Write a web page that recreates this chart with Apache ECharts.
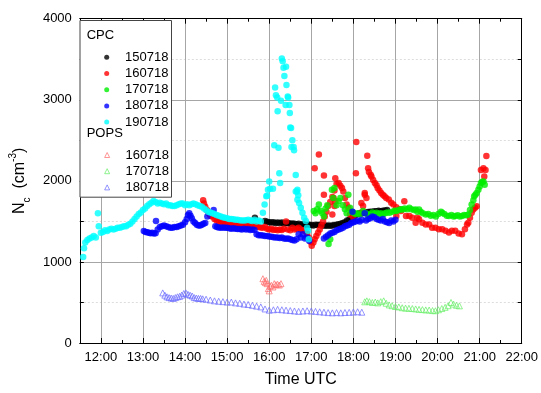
<!DOCTYPE html>
<html>
<head>
<meta charset="utf-8">
<script src="https://cdn.jsdelivr.net/npm/echarts@6/dist/echarts.min.js"></script>
<style>
html,body{margin:0;padding:0;background:#fff;}
#chart{width:541px;height:393px;}
</style>
</head>
<body>
<div id="chart"></div>
<script>
// ---- data: [time in decimal hours UTC, Nc (cm^-3)] ----
const cpc150718 = [
[15.66,1545],[15.90,1505],[15.95,1495],[16.00,1490],[16.05,1485],[16.10,1490],[16.15,1480],[16.20,1485],[16.25,1480],[16.30,1485],
[16.35,1475],[16.40,1480],[16.45,1480],[16.50,1470],[16.55,1475],[16.60,1470],[16.65,1465],[16.70,1470],[16.75,1460],[16.80,1465],
[16.85,1460],[16.90,1455],[16.95,1460],[17.00,1455],[17.05,1450],[17.10,1460],[17.15,1455],[17.20,1460],[17.25,1450],[17.30,1450],
[17.35,1445],[17.40,1450],[17.45,1445],[17.50,1450],[17.55,1455],[17.60,1460],[17.65,1465],[17.70,1470],[17.75,1480],[17.80,1490],
[17.85,1510],[17.90,1520],[17.95,1540],[18.00,1560],[18.05,1580],[18.10,1590],[18.15,1600],[18.20,1600],[18.25,1605],[18.30,1610],
[18.35,1615],[18.40,1620],[18.45,1620],[18.50,1625],[18.55,1625],[18.60,1630],[18.65,1625],[18.70,1630],[18.75,1635],[18.80,1640]
];
const cpc160718 = [
[14.43,1760],[14.45,1720],[14.48,1680],[14.52,1640],[14.56,1600],[14.60,1570],[14.64,1560],[14.70,1530],[14.75,1510],[14.80,1500],
[14.85,1490],[14.90,1490],[14.95,1480],[15.00,1485],[15.05,1470],[15.10,1475],[15.15,1465],[15.20,1460],[15.25,1470],[15.30,1460],
[15.35,1465],[15.40,1455],[15.45,1460],[15.50,1450],[15.55,1455],[15.60,1445],[15.65,1450],[15.70,1440],[15.75,1430],[15.80,1425],
[15.85,1420],[15.90,1430],[15.95,1410],[16.00,1400],[16.05,1410],[16.10,1395],[16.15,1400],[16.20,1390],[16.25,1400],[16.30,1395],
[16.35,1410],[16.40,1500],[16.44,1400],[16.50,1390],[16.55,1420],[16.60,1400],[16.65,1410],[16.70,1420],[16.75,1400],[16.80,1390],
[16.85,1380],[16.90,1350],[16.94,1300],[16.98,1250],[17.01,1200],[17.05,1240],[17.08,1280],[17.12,1320],[17.16,1360],[17.20,1400],
[17.24,1450],[17.28,1500],[17.32,1560],[17.36,1620],[17.40,1690],[17.45,1740],[17.50,1800],[17.55,1880],[17.60,1960],[17.65,1972],
[17.08,2155],[17.18,2326],[17.30,2066],[17.30,1829],[17.57,2033],[17.69,1940],[17.73,1911],[17.76,1870],[17.53,1789],[17.57,1748],
[17.55,1690],[17.50,1585],[17.80,1789],[17.84,1707],[17.88,1667],[17.92,1585],[18.00,1545],[18.19,1728],[18.23,1690],[18.19,1610],
[18.27,1850],[18.27,1829],[18.31,1789],[18.07,2480],[18.06,2094],[18.33,2310],[18.35,2155],[18.37,2110],[18.41,2075],[18.43,2053],
[18.47,2010],[18.51,1972],[18.55,1945],[18.58,1910],[18.62,1880],[18.66,1850],[18.70,1829],[18.74,1810],[18.78,1789],[18.84,1770],
[18.90,1730],[18.95,1707],[19.02,1675],[19.10,1650],[19.02,1566],[19.13,1627],[19.21,1748],[19.25,1566],[19.33,1566],[19.40,1545],
[19.48,1484],[19.52,1545],[19.56,1525],[19.64,1484],[19.72,1463],[19.80,1463],[19.87,1423],[19.95,1423],[20.03,1403],[20.11,1403],
[20.19,1383],[20.27,1362],[20.34,1383],[20.42,1383],[20.50,1350],[20.58,1342],[20.65,1403],[20.70,1463],[20.73,1484],[20.77,1545],
[20.81,1606],[20.85,1646],[20.89,1667],[20.93,1687],[21.03,2134],[21.09,2155],[21.14,2134],[21.11,2053],[21.16,2305]
];
const cpc170718 = [
[17.06,1627],[17.10,1600],[17.14,1650],[17.18,1707],[17.22,1630],[17.26,1600],[17.30,1560],[17.34,1660],[17.38,1700],[17.41,1220],
[17.45,1280],[17.49,1890],[17.52,1790],[17.55,1911],[17.60,1700],[17.65,1750],[17.69,1789],[17.75,1700],[17.80,1650],[17.84,1600],
[17.88,1829],[17.92,1667],[17.96,1620],[18.00,1606],[18.05,1590],[18.10,1600],[18.16,1585],[18.23,1627],[18.30,1600],[18.35,1580],
[18.39,1585],[18.45,1610],[18.50,1590],[18.55,1606],[18.60,1590],[18.65,1600],[18.70,1585],[18.75,1600],[18.80,1610],[18.86,1606],
[18.92,1620],[18.98,1630],[19.02,1627],[19.08,1640],[19.13,1650],[19.17,1646],[19.22,1660],[19.28,1650],[19.33,1667],[19.38,1650],
[19.44,1640],[19.48,1646],[19.52,1620],[19.56,1646],[19.60,1620],[19.65,1600],[19.72,1585],[19.78,1590],[19.84,1570],[19.90,1580],
[19.96,1560],[20.02,1590],[20.08,1620],[20.11,1606],[20.16,1590],[20.22,1570],[20.27,1566],[20.33,1580],[20.38,1560],[20.42,1566],
[20.48,1575],[20.53,1560],[20.58,1566],[20.63,1580],[20.68,1575],[20.73,1585],[20.77,1640],[20.81,1707],[20.85,1760],[20.87,1809],
[20.90,1830],[20.93,1850],[20.97,1890],[21.00,1930],[21.03,1972],[21.06,1990],[21.09,1993],[21.12,1951]
];
const cpc180718 = [
[13.02,1380],[13.06,1370],[13.10,1365],[13.14,1360],[13.18,1355],[13.22,1360],[13.26,1350],[13.30,1355],[13.31,1505],[13.35,1400],
[13.40,1430],[13.45,1440],[13.50,1450],[13.55,1440],[13.60,1430],[13.65,1420],[13.70,1420],[13.75,1430],[13.80,1430],[13.85,1440],
[13.90,1450],[13.95,1460],[14.00,1490],[14.04,1530],[14.07,1580],[14.10,1600],[14.13,1570],[14.16,1540],[14.20,1500],[14.24,1480],
[14.28,1460],[14.32,1450],[14.36,1450],[14.40,1460],[14.44,1470],[14.48,1480],[14.53,1560],[14.68,1640],[14.72,1440],[14.76,1430],
[14.80,1425],[14.85,1420],[14.90,1425],[14.95,1420],[15.00,1420],[15.05,1415],[15.10,1410],[15.15,1415],[15.20,1410],[15.25,1405],
[15.30,1405],[15.35,1400],[15.40,1410],[15.45,1400],[15.50,1405],[15.55,1395],[15.60,1400],[15.65,1395],[15.70,1340],[15.75,1330],
[15.80,1330],[15.85,1325],[15.90,1320],[15.95,1320],[16.00,1315],[16.05,1310],[16.10,1305],[16.15,1300],[16.20,1300],[16.25,1295],
[16.30,1300],[16.35,1290],[16.40,1285],[16.45,1290],[16.50,1280],[16.55,1270],[16.60,1265],[16.65,1280],[16.70,1340],[16.75,1300],
[16.80,1340],[16.85,1290],[16.90,1300],[16.95,1260],[17.30,1290],[17.35,1310],[17.40,1330],[17.45,1350],[17.50,1360],[17.55,1370],
[17.60,1390],[17.65,1400],[17.70,1410],[17.75,1420],[17.80,1440],[17.85,1450],[17.90,1460],[17.95,1480],[17.98,1620],[18.00,1490],
[18.05,1500],[18.10,1510],[18.15,1500],[18.20,1520],[18.27,1600],[18.30,1510],[18.35,1530],[18.40,1540],[18.45,1560],[18.50,1550],
[18.55,1530],[18.60,1520],[18.65,1510],[18.70,1530],[18.75,1500],[18.80,1490],[18.85,1480],[18.90,1510],[18.95,1500],[19.00,1520]
];
const cpc190718 = [
[11.58,1060],[11.60,1170],[11.63,1240],[11.68,1270],[11.73,1290],[11.78,1300],[11.83,1320],[11.88,1300],[11.93,1600],[11.95,1440],
[12.00,1360],[12.05,1370],[12.10,1390],[12.15,1380],[12.20,1400],[12.25,1410],[12.30,1400],[12.35,1410],[12.40,1420],[12.45,1420],
[12.50,1430],[12.55,1440],[12.60,1440],[12.65,1460],[12.70,1470],[12.75,1500],[12.80,1530],[12.85,1560],[12.90,1590],[12.95,1610],
[13.00,1640],[13.05,1660],[13.10,1690],[13.15,1710],[13.20,1730],[13.25,1750],[13.30,1740],[13.35,1720],[13.40,1730],[13.45,1720],
[13.50,1710],[13.55,1720],[13.60,1700],[13.65,1700],[13.70,1690],[13.75,1690],[13.80,1700],[13.85,1710],[13.90,1720],[13.95,1720],
[14.00,1700],[14.05,1710],[14.10,1700],[14.15,1710],[14.20,1720],[14.25,1710],[14.30,1700],[14.35,1690],[14.40,1680],[14.45,1660],
[14.50,1640],[14.55,1620],[14.60,1610],[14.65,1600],[14.70,1590],[14.75,1580],[14.80,1570],[14.85,1560],[14.90,1550],[14.95,1545],
[15.00,1540],[15.05,1530],[15.10,1530],[15.15,1525],[15.20,1520],[15.25,1520],[15.30,1515],[15.35,1510],[15.40,1510],[15.45,1515],
[15.50,1520],[15.55,1510],[15.60,1505],[15.65,1520],[15.70,1500],[15.75,1510],[15.80,1500],[15.85,1606],[15.89,1707],[15.93,1810],
[15.95,1817],[15.97,1890],[16.00,1993],[16.02,1902],[16.09,1902],[16.12,2439],[16.14,3151],[16.16,3057],[16.19,3029],[16.20,2858],
[16.22,2407],[16.24,2094],[16.26,1972],[16.28,2988],[16.30,3509],[16.32,3476],[16.34,3395],[16.36,3293],[16.39,2935],[16.40,3407],
[16.41,3183],[16.44,3041],[16.45,3029],[16.48,2935],[16.49,2838],[16.50,2659],[16.52,2651],[16.53,2419],[16.55,2500],[16.58,2419],
[16.59,2378],[16.63,2073],[16.66,1870],[16.67,1890],[16.69,1822],[16.63,1870],[16.67,1768],[16.71,1728],[16.75,1667],[16.79,1606],
[16.83,1545],[16.87,1505],[16.90,1423],[16.92,1383],[16.94,1281]
];
const pops160718 = [
[15.85,793],[15.88,760],[15.91,745],[15.93,773],[15.95,732],[15.98,671],[16.00,643],[16.02,700],[16.05,712],[16.09,691],
[16.12,732],[16.16,720],[16.20,724],[16.24,715],[16.28,732]
];
const pops170718 = [
[18.27,508],[18.32,520],[18.38,510],[18.45,500],[18.52,505],[18.58,495],[18.65,510],[18.72,520],[18.78,490],[18.85,470],
[18.92,460],[19.00,450],[19.08,445],[19.16,435],[19.24,430],[19.32,428],[19.40,425],[19.48,420],[19.56,415],[19.64,412],
[19.72,408],[19.80,407],[19.88,400],[19.95,398],[20.02,410],[20.10,425],[20.18,440],[20.25,460],[20.32,500],[20.38,480],
[20.45,465],[20.52,458]
];
const pops180718 = [
[13.47,618],[13.52,590],[13.57,570],[13.62,560],[13.67,555],[13.72,550],[13.77,560],[13.82,570],[13.87,575],[13.92,590],
[13.97,610],[14.02,618],[14.07,600],[14.12,590],[14.17,580],[14.22,560],[14.27,555],[14.32,550],[14.37,550],[14.42,545],
[14.50,540],[14.60,530],[14.70,520],[14.80,515],[14.90,510],[15.00,505],[15.10,505],[15.20,495],[15.30,490],[15.40,480],
[15.50,475],[15.60,465],[15.70,455],[15.80,445],[15.90,420],[16.00,405],[16.10,410],[16.20,415],[16.30,410],[16.40,405],
[16.50,400],[16.60,395],[16.70,390],[16.80,395],[16.90,398],[17.00,395],[17.10,390],[17.20,385],[17.30,380],[17.40,375],
[17.50,372],[17.60,375],[17.70,372],[17.80,376],[17.90,378],[18.00,382],[18.10,385],[18.20,380]
];
const cpcNames = ['150718','160718','170718','180718','190718'];
const popsNames = ['160718','170718','180718'];
const cpcColors = ['#000000','#ff0000','#00ee00','#0000ff','#00ffff'];
const popsColors = ['#ff6b6b','#66ee66','#6b6bff'];

const chart = echarts.init(document.getElementById('chart'), null, {renderer:'canvas'});
const FONT = 'Liberation Sans, Arial, sans-serif';
const fmtHour = v => (Math.abs(v - Math.round(v)) < 1e-6) ? (Math.round(v) + ':00') : '';

const cpcData = [cpc150718, cpc160718, cpc170718, cpc180718, cpc190718];
const popsData = [pops160718, pops170718, pops180718];

const series = [];
popsData.forEach((d, i) => series.push({
  name: 'P' + popsNames[i], type: 'scatter', symbol: 'triangle', symbolSize: 6,
  itemStyle: {color: 'rgba(255,255,255,0)', borderColor: popsColors[i], borderWidth: 0.9},
  data: d, z: 2
}));
cpcData.forEach((d, i) => series.push({
  name: 'C' + cpcNames[i], type: 'scatter', symbol: 'circle', symbolSize: 6.5,
  itemStyle: {color: cpcColors[i]}, data: d, z: 3
}));

const xBase = {
  type: 'value', min: 11.5, max: 22, splitNumber: 10,
  axisLine: {show: true, onZero: false, lineStyle: {color: '#000', width: 1}},
  axisTick: {show: true, inside: true, length: 5, lineStyle: {color: '#000'}},
  minorTick: {show: true, splitNumber: 2, length: 3, lineStyle: {color: '#000'}}
};
const yBase = {
  type: 'value', min: 0, max: 4000, interval: 1000,
  axisLine: {show: true, onZero: false, lineStyle: {color: '#000', width: 1}},
  axisTick: {show: true, inside: true, length: 4, lineStyle: {color: '#000'}},
  minorTick: {show: true, splitNumber: 2, length: 4, lineStyle: {color: '#000'}}
};

const legendText = {fontSize: 13, color: '#000', fontFamily: FONT, lineHeight: 14};
const legendFmt = n => '   ' + n.slice(1);

chart.setOption({
  animation: false,
  backgroundColor: '#fff',
  textStyle: {fontFamily: FONT},
  grid: {left: 76, right: 17, top: 18.7, bottom: 46.3, containLabel: false},
  xAxis: [
    Object.assign({}, xBase, {
      position: 'bottom',
      name: 'Time UTC', nameLocation: 'middle', nameGap: 29,
      nameTextStyle: {fontSize: 16, color: '#000', fontFamily: FONT},
      axisLabel: {show: true, color: '#000', fontSize: 13, fontFamily: FONT, margin: 8, formatter: fmtHour, showMinLabel: false},
      splitLine: {show: true, lineStyle: {color: '#a6a6a6', width: 1}}
    }),
    Object.assign({}, xBase, {
      position: 'top', axisLabel: {show: false}, splitLine: {show: false}
    })
  ],
  yAxis: [
    Object.assign({}, yBase, {
      position: 'left',
      name: '{n|N}{sub|c}{n|  (cm}{sup|-3}{n|)}', nameLocation: 'middle', nameGap: 44, nameRotate: 90,
      nameTextStyle: {
        color: '#000', fontFamily: FONT,
        rich: {
          n: {fontSize: 16, color: '#000', fontFamily: FONT, lineHeight: 24},
          sub: {fontSize: 10, color: '#000', fontFamily: FONT, verticalAlign: 'bottom', lineHeight: 24, padding: [6, 0, 0, 0]},
          sup: {fontSize: 10, color: '#000', fontFamily: FONT, verticalAlign: 'top', lineHeight: 24, padding: [0, 0, 8, 0]}
        }
      },
      axisLabel: {show: true, color: '#000', fontSize: 13, fontFamily: FONT, margin: 8, formatter: v => String(v)},
      splitLine: {show: true, lineStyle: {color: '#a6a6a6', width: 1}},
      minorSplitLine: {show: true, lineStyle: {color: '#dddddd', width: 1, type: [2, 2]}}
    }),
    Object.assign({}, yBase, {
      position: 'right', axisLabel: {show: false}, splitLine: {show: false}
    })
  ],
  legend: [
    {
      z: 10,
      orient: 'vertical', left: 99.2, top: 45.3, itemWidth: 5, itemHeight: 5, itemGap: 2.2,
      selectedMode: false,
      data: cpcNames.map((n, i) => ({name: 'C' + n, icon: 'circle', itemStyle: {color: cpcColors[i]}})),
      formatter: legendFmt,
      textStyle: legendText
    },
    {
      z: 10,
      orient: 'vertical', left: 99.2, top: 143, itemWidth: 5, itemHeight: 5, itemGap: 2.2,
      selectedMode: false,
      data: popsNames.map((n, i) => ({name: 'P' + n, icon: 'triangle',
        itemStyle: {color: 'rgba(255,255,255,0)', borderColor: popsColors[i], borderWidth: 0.9}})),
      formatter: legendFmt,
      textStyle: legendText
    }
  ],
  graphic: [
    {type: 'rect', left: 79.5, top: 20, shape: {width: 91.5, height: 176.7}, z: 5,
     style: {fill: '#fff', stroke: '#444', lineWidth: 1}},
    {type: 'text', left: 86.7, top: 29, z: 6, style: {text: 'CPC', font: '13px ' + FONT, fill: '#000'}},
    {type: 'text', left: 86.7, top: 126.5, z: 6, style: {text: 'POPS', font: '13px ' + FONT, fill: '#000'}}
  ],
  series: series
});
</script>
</body>
</html>
